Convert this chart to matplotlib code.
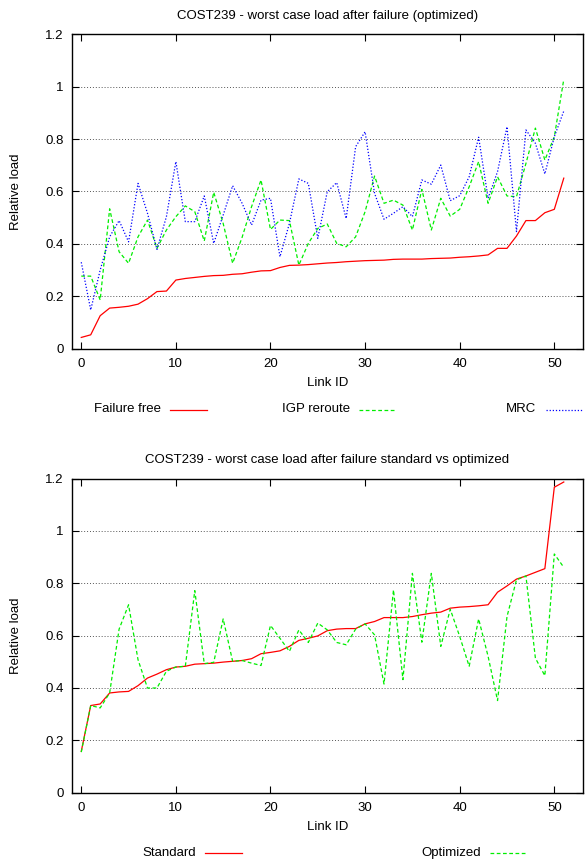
import numpy as np
import matplotlib
matplotlib.use('Agg')
import matplotlib.pyplot as plt
from matplotlib.lines import Line2D
from matplotlib.ticker import FuncFormatter, MultipleLocator

# Data
link_id = np.arange(52)

failure_free = [0.043, 0.053, 0.126, 0.155, 0.158, 0.162, 0.170, 0.191, 0.218, 0.220,
                0.262, 0.268, 0.272, 0.276, 0.279, 0.280, 0.284, 0.286, 0.292, 0.297,
                0.298, 0.310, 0.318, 0.319, 0.321, 0.324, 0.327, 0.329, 0.332, 0.334,
                0.336, 0.337, 0.338, 0.341, 0.342, 0.342, 0.342, 0.344, 0.345, 0.346,
                0.349, 0.351, 0.354, 0.358, 0.383, 0.383, 0.430, 0.489, 0.489, 0.519,
                0.532, 0.651]

igp_reroute = [0.277, 0.277, 0.186, 0.534, 0.370, 0.326, 0.427, 0.491, 0.383, 0.453,
               0.504, 0.545, 0.523, 0.411, 0.597, 0.478, 0.326, 0.425, 0.542, 0.644,
               0.455, 0.491, 0.489, 0.319, 0.402, 0.459, 0.476, 0.402, 0.389, 0.427,
               0.523, 0.659, 0.555, 0.567, 0.548, 0.453, 0.608, 0.453, 0.574, 0.506,
               0.532, 0.618, 0.714, 0.555, 0.656, 0.583, 0.580, 0.707, 0.842, 0.720,
               0.809, 1.028]

mrc = [0.330, 0.148, 0.300, 0.427, 0.489, 0.408, 0.631, 0.517, 0.379, 0.504,
       0.714, 0.485, 0.485, 0.583, 0.402, 0.510, 0.622, 0.555, 0.472, 0.567,
       0.574, 0.351, 0.478, 0.648, 0.631, 0.421, 0.599, 0.634, 0.497, 0.771,
       0.828, 0.593, 0.494, 0.517, 0.542, 0.504, 0.644, 0.628, 0.701, 0.565,
       0.584, 0.656, 0.807, 0.574, 0.676, 0.847, 0.447, 0.835, 0.784, 0.667,
       0.809, 0.907]

standard = [0.158, 0.333, 0.339, 0.381, 0.385, 0.387, 0.409, 0.438, 0.453, 0.470,
            0.480, 0.483, 0.491, 0.493, 0.495, 0.499, 0.502, 0.505, 0.512, 0.531,
            0.536, 0.542, 0.559, 0.582, 0.590, 0.599, 0.619, 0.625, 0.627, 0.627,
            0.645, 0.654, 0.669, 0.669, 0.669, 0.673, 0.680, 0.686, 0.690, 0.705,
            0.709, 0.711, 0.714, 0.718, 0.766, 0.790, 0.816, 0.828, 0.842, 0.856,
            1.167, 1.187]

optimized = [0.155, 0.333, 0.324, 0.381, 0.625, 0.718, 0.508, 0.400, 0.400, 0.464,
             0.480, 0.483, 0.772, 0.493, 0.498, 0.664, 0.502, 0.505, 0.495, 0.486,
             0.639, 0.590, 0.540, 0.622, 0.574, 0.648, 0.622, 0.574, 0.565, 0.625,
             0.645, 0.603, 0.415, 0.775, 0.432, 0.838, 0.575, 0.838, 0.559, 0.701,
             0.597, 0.483, 0.664, 0.521, 0.352, 0.673, 0.813, 0.828, 0.514, 0.447,
             0.912, 0.861]

W, H = 585, 861
FS = 9.5
plt.rcParams['font.family'] = ['Liberation Sans', 'DejaVu Sans']
plt.rcParams['font.size'] = FS

fig = plt.figure(figsize=(W / 100, H / 100), dpi=100)


def make_axes(top, bottom):
    left, right = 71.8, 582.7
    ax = fig.add_axes([left / W, 1 - bottom / H, (right - left) / W, (bottom - top) / H])
    ax.set_xlim(-1, 53)
    ax.set_ylim(0, 1.2)
    ax.xaxis.set_major_locator(MultipleLocator(10))
    ax.yaxis.set_major_locator(MultipleLocator(0.2))
    ax.yaxis.set_major_formatter(FuncFormatter(lambda v, p: '%g' % round(v, 2)))
    ax.tick_params(direction='in', length=5, width=0.8, top=True, right=True,
                   labelsize=FS)
    ax.tick_params(axis='y', pad=6)
    ax.tick_params(axis='x', pad=7)
    ax.yaxis.grid(True, linestyle=(0, (1, 2)), color='#555555', linewidth=0.7)
    for s in ax.spines.values():
        s.set_linewidth(1.0)
    ax.set_xlabel('Link ID', fontsize=FS)
    ax.set_ylabel('Relative load', fontsize=FS)
    ax.xaxis.set_label_coords(0.5, -0.090)
    ax.yaxis.set_label_coords(-0.097, 0.5)
    return ax


RED = '#ff0000'
GREEN = '#00ee00'
BLUE = '#0000ff'
dash = (0, (3, 2))
dot = (0, (1, 1.5))

# top chart
ax1 = make_axes(34.3, 348.7)
ax1.plot(link_id, failure_free, color=RED, lw=0.9)
ax1.plot(link_id, igp_reroute, color=GREEN, lw=0.9, linestyle=dash)
ax1.plot(link_id, mrc, color=BLUE, lw=0.9, linestyle=dot)
ax1.set_title('COST239 - worst case load after failure (optimized)', fontsize=FS, pad=11)

# bottom chart
ax2 = make_axes(478.6, 792.7)
ax2.plot(link_id, standard, color=RED, lw=0.9)
ax2.plot(link_id, optimized, color=GREEN, lw=0.9, linestyle=dash)
ax2.set_title('COST239 - worst case load after failure standard vs optimized', fontsize=FS, pad=11)


# legends drawn gnuplot style: text then sample line
def legend_item(label, x_text_end, y, color, ls, gap=8.5):
    fig.text(x_text_end / W, 1 - y / H, label, ha='right', va='center', fontsize=FS)
    fig.add_artist(Line2D([(x_text_end + gap) / W, (x_text_end + gap + 37) / W],
                          [1 - y / H, 1 - y / H], color=color, lw=0.9, linestyle=ls,
                          transform=fig.transFigure))


legend_item('Failure free', 161.5, 409.5, RED, '-')
legend_item('IGP reroute', 350, 409.5, GREEN, dash)
legend_item('MRC', 536, 409.5, BLUE, dot, gap=10)
legend_item('Standard', 196, 853, RED, '-')
legend_item('Optimized', 481, 853, GREEN, dash)

fig.savefig('out.png', dpi=100)
